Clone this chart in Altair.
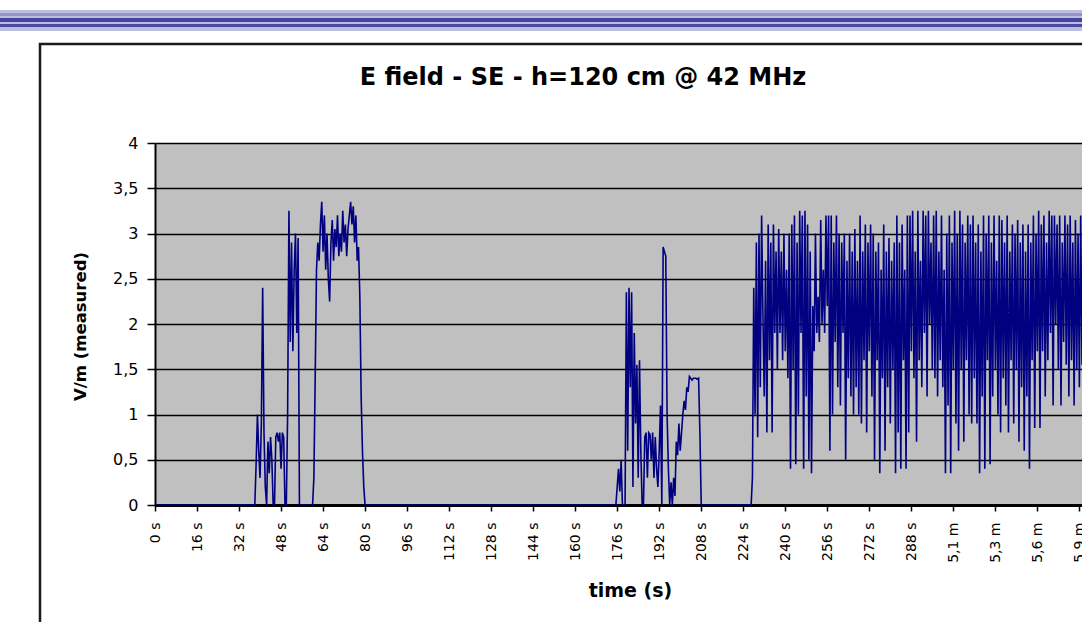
import altair as alt
import pandas as pd

# ---- data -------------------------------------------------------------
TITLE = "E field - SE - h=120 cm @ 42 MHz"
X_TITLE = "time (s)"
Y_TITLE = "V/m (measured)"

STEP_S = 0.5          # sampling interval of the field probe, seconds
T_END = 353.0         # last visible instant

# y-axis ticks (V/m) and x-axis ticks (s)
Y_TICKS = [0, 0.5, 1, 1.5, 2, 2.5, 3, 3.5, 4]
X_TICKS = [0, 16, 32, 48, 64, 80, 96, 112, 128, 144, 160, 176, 192, 208,
           224, 240, 256, 272, 288, 304, 320, 336, 352]

# first transmission burst (starts at 38.5 s)
BURST1_START = 38.5
BURST1 = [0.45, 1.0, 0.6, 0.3, 0.9, 2.4, 0.8, 0.2, 0.0, 0.7, 0.35, 0.75,
          0.5, 0.0, 0.0, 0.75, 0.8, 0.7, 0.8, 0.4, 0.8, 0.75, 0.0, 0.0,
          1.0, 3.25, 1.8, 2.9, 1.7, 2.6, 3.0, 1.9, 2.95, 0.0]

# second burst (starts at 60.5 s)
BURST2_START = 60.5
BURST2 = [0.3, 1.4, 2.6, 2.9, 2.7, 3.1, 3.35, 2.8, 3.2, 2.6, 3.0, 2.5,
          2.25, 2.9, 3.15, 2.7, 3.05, 2.85, 3.2, 2.75, 3.0, 2.8, 3.25, 2.9,
          3.1, 2.75, 3.05, 3.2, 3.35, 3.1, 3.3, 2.9, 3.2, 2.7, 2.85, 2.3,
          1.2, 0.6, 0.2, 0.0]

# third burst (starts at 175.5 s)
BURST3_START = 175.5
BURST3 = [0.0, 0.2, 0.4, 0.15, 0.5, 0.0, 0.0, 0.0, 2.35, 0.6, 2.4, 1.3,
          2.35, 0.2, 1.9, 0.9, 1.55, 0.3, 1.6, 0.6, 0.0, 0.0, 0.75, 0.8,
          0.3, 0.8, 0.78, 0.5, 0.8, 0.3, 0.75, 0.4, 0.2, 0.6, 1.1, 0.0,
          2.85, 2.8, 2.75, 1.0, 0.4, 0.0, 0.25, 0.0, 0.3, 0.1, 0.7, 0.55,
          0.9, 0.6, 0.8, 1.0, 1.15, 1.05, 1.3, 1.25, 1.42, 1.4, 1.38, 1.4,
          1.4, 1.4, 1.39, 1.4, 0.8, 0.0]

# continuous activity from 227 s onwards
BURST4_START = 227.0
BURST4 = [
    0.0, 0.3, 2.4, 1.0, 2.9, 0.75, 3.0, 1.3, 3.2, 2.1,
    1.2, 2.7, 0.8, 3.1, 1.6, 2.9, 0.8, 3.1, 1.9, 2.8,
    1.5, 3.05, 1.9, 2.8, 1.6, 3.0, 1.7, 2.6, 1.4, 3.0,
    0.4, 3.1, 1.5, 3.2, 0.45, 2.9, 1.0, 3.25, 1.9, 3.2,
    0.4, 3.25, 1.2, 3.1, 0.5, 2.8, 0.35, 2.2, 1.7, 3.0,
    1.9, 2.3, 1.8, 3.15, 2.0, 2.6, 1.9, 3.2, 2.2, 3.2,
    0.6, 3.2, 1.0, 2.9, 1.8, 3.2, 1.3, 3.0, 1.1, 2.9,
    1.9, 3.0, 0.5, 2.7, 1.4, 3.0, 1.2, 2.8, 1.0, 3.05,
    1.3, 2.7, 1.0, 3.2, 0.9, 2.8, 1.6, 3.1, 0.8, 2.9,
    1.7, 3.1, 1.2, 3.0, 0.5, 2.8, 1.6, 2.9, 0.35, 2.6,
    1.4, 3.1, 0.6, 2.8, 1.3, 2.95, 0.9, 2.7, 1.5, 2.9,
    0.35, 3.2, 0.8, 2.9, 0.4, 3.1, 1.6, 2.6, 0.4, 3.2,
    0.8, 3.2, 1.7, 3.25, 1.4, 2.8, 0.7, 3.25, 1.6, 2.7,
    1.3, 3.25, 1.9, 3.2, 1.2, 3.25, 2.0, 2.9, 1.5, 3.2,
    1.4, 3.25, 1.2, 2.8, 1.6, 3.2, 1.3, 2.6, 0.35, 3.0,
    1.1, 3.2, 0.35, 2.9, 1.5, 3.25, 0.9, 3.0, 0.6, 3.25,
    1.5, 3.1, 0.7, 2.9, 1.6, 3.2, 1.0, 3.1, 0.9, 3.2,
    1.4, 2.9, 0.9, 3.1, 0.35, 2.8, 1.2, 3.2, 0.4, 3.0,
    1.6, 3.2, 0.45, 2.9, 1.2, 3.2, 1.5, 2.7, 1.0, 3.2,
    0.8, 3.15, 1.4, 2.9, 1.1, 3.2, 0.8, 2.8, 1.6, 3.1,
    0.9, 3.0, 1.5, 3.15, 0.7, 2.9, 1.3, 3.1, 0.6, 2.8,
    1.2, 3.1, 0.4, 2.9, 1.6, 3.2, 0.85, 3.0, 1.7, 3.25,
    0.85, 3.1, 1.7, 3.2, 1.2, 2.9, 1.6, 3.25, 1.9, 3.2,
    1.1, 3.2, 2.0, 3.1, 1.5, 3.2, 1.1, 2.9, 1.8, 3.2,
    1.55, 3.1, 1.2, 3.2, 1.6, 2.9, 1.1, 3.15, 1.5, 3.0,
    1.3, 3.2, 1.55,
]

# ---- build the sampled series (silence = 0 V/m between bursts) ----------
n = int(round(T_END / STEP_S)) + 1
values = [0.0] * n
for start, burst in [(BURST1_START, BURST1), (BURST2_START, BURST2),
                     (BURST3_START, BURST3), (BURST4_START, BURST4)]:
    i0 = int(round(start / STEP_S))
    for k, v in enumerate(burst):
        if i0 + k < n:
            values[i0 + k] = v
series = pd.DataFrame({"t": [i * STEP_S for i in range(n)], "v": values})

# ---- geometry ------------------------------------------------------------
PLOT_W, PLOT_H = 927, 362
PAD = {"left": 155, "top": 143, "right": 0, "bottom": 117}
FONT = "DejaVu Sans"
one = pd.DataFrame({"k": [0]})

x_enc = alt.X(
    "t:Q",
    scale=alt.Scale(domain=[0, T_END], nice=False, zero=False),
    axis=alt.Axis(
        values=X_TICKS,
        labelExpr="datum.value < 300 ? datum.value + ' s' : "
                  "replace(format(datum.value / 60, '.1f'), '.', ',') + ' m'",
        labelAngle=270, labelAlign="right", labelBaseline="middle",
        labelFont=FONT, labelFontSize=14, labelColor="#000",
        labelPadding=11, labelFlush=False, labelOverlap=False,
        tickSize=6, tickColor="#000", tickWidth=1.5,
        domainColor="#000", domainWidth=3,
        grid=False,
        title=X_TITLE, titleFont=FONT, titleFontSize=19, titleFontWeight="bold",
        titleColor="#000", titleX=475, titleY=85, titleAlign="center",
        titleBaseline="middle", titleAngle=0,
    ),
)
y_enc = alt.Y(
    "v:Q",
    scale=alt.Scale(domain=[0, 4], nice=False),
    axis=alt.Axis(
        values=Y_TICKS,
        labelExpr="replace(format(datum.value, '~g'), '.', ',')",
        labelFont=FONT, labelFontSize=16, labelColor="#000", labelPadding=9,
        tickSize=8, tickColor="#000", tickWidth=1.5,
        domainColor="#000", domainWidth=2,
        grid=True, gridColor="#000", gridWidth=1.6, gridOpacity=1,
        title=Y_TITLE, titleFont=FONT, titleFontSize=16.5, titleFontWeight="bold",
        titleColor="#000", titleX=-75, titleY=183, titleAngle=270,
        titleAlign="center", titleBaseline="middle",
    ),
)

line = alt.Chart(series).mark_line(color="#000080", strokeWidth=1.6, clip=True).encode(
    x=x_enc, y=y_enc
)

# slide header band and the chart frame
band_light = alt.Chart(one).mark_rect(color="#BDBDDF").encode(
    x=alt.value(-155), x2=alt.value(PLOT_W), y=alt.value(-133), y2=alt.value(-112))
band_mid = alt.Chart(one).mark_rect(color="#9494CA").encode(
    x=alt.value(-155), x2=alt.value(PLOT_W), y=alt.value(-130), y2=alt.value(-127))
band_dark1 = alt.Chart(one).mark_rect(color="#45459F").encode(
    x=alt.value(-155), x2=alt.value(PLOT_W), y=alt.value(-125), y2=alt.value(-121))
band_dark2 = alt.Chart(one).mark_rect(color="#4A4AA3").encode(
    x=alt.value(-155), x2=alt.value(PLOT_W), y=alt.value(-119), y2=alt.value(-116))
frame = alt.Chart(one).mark_rect(filled=False, stroke="#1a1a1a", strokeWidth=2.5).encode(
    x=alt.value(-115), x2=alt.value(PLOT_W + 40), y=alt.value(-99), y2=alt.value(PLOT_H + 160))

title = alt.Chart(one).mark_text(
    font=FONT, fontSize=24, fontWeight="bold", color="#000",
    align="center", baseline="middle",
).encode(x=alt.value(428), y=alt.value(-65), text=alt.value(TITLE))

chart = (
    alt.layer(band_light, band_mid, band_dark1, band_dark2, frame, line, title)
    .properties(width=PLOT_W, height=PLOT_H, padding=PAD,
                autosize=alt.AutoSizeParams(type="none"), background="#ffffff")
    .configure_view(fill="#C0C0C0", stroke="transparent")
)

chart.save("out.html", embed_options={"renderer": "svg", "actions": False})
